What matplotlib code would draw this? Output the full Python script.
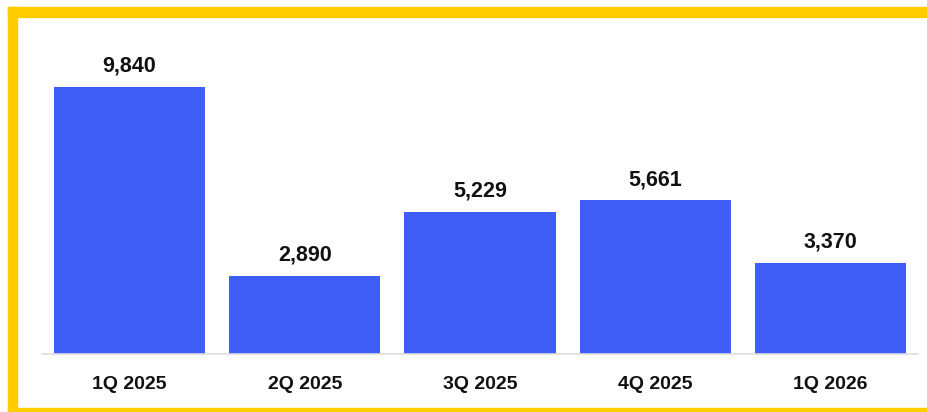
import matplotlib.pyplot as plt
from matplotlib.patches import Rectangle

quarters = ['1Q 2025', '2Q 2025', '3Q 2025', '4Q 2025', '1Q 2026']
values = [9840, 2890, 5229, 5661, 3370]

W, H = 928, 412
fig = plt.figure(figsize=(W / 100, H / 100), dpi=100)
plt.rcParams['font.family'] = ['Liberation Sans', 'DejaVu Sans']

# yellow frame (open on the right)
yellow = '#FFCC00'
fig.patches.append(Rectangle((8 / W, 1 - 412 / H), 9 / W, 405 / H, transform=fig.transFigure, color=yellow, zorder=0))
fig.patches.append(Rectangle((8 / W, 1 - 17 / H), 1 - 8 / W, 10 / H, transform=fig.transFigure, color=yellow, zorder=0))
fig.patches.append(Rectangle((8 / W, 0), 1 - 8 / W, 4 / H, transform=fig.transFigure, color=yellow, zorder=0))

ax = fig.add_axes([42 / W, (412 - 354) / H, 876 / W, 334 / H])
ax.patch.set_alpha(0)
x = range(len(quarters))
bars = ax.bar(x, values, width=0.863, color='#3F5EF8', zorder=2)
for b, v in zip(bars, values):
    ax.annotate(f'{v:,}', (b.get_x() + b.get_width() / 2, v), xytext=(0, 11),
                textcoords='offset points', ha='center', va='baseline',
                fontsize=15.5, fontweight='bold', color='#111111')

ax.set_xlim(-0.5, 4.5)
ax.set_ylim(0, 12310)
ax.set_xticks(list(x))
ax.set_xticklabels(quarters, fontsize=14, fontweight='bold', color='#111111')
ax.tick_params(axis='x', length=0, pad=16)
ax.set_yticks([])
for s in ['top', 'right', 'left']:
    ax.spines[s].set_visible(False)
ax.spines['bottom'].set_color('#DDDDDD')
ax.spines['bottom'].set_linewidth(1.2)

plt.savefig('out.png', dpi=100)
